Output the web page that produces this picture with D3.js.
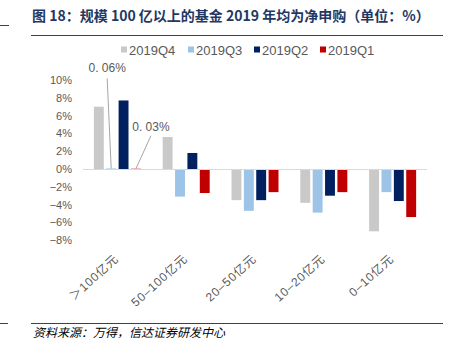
<!DOCTYPE html>
<html>
<head>
<meta charset="utf-8">
<script src="https://cdn.jsdelivr.net/npm/d3@7"></script>
<style>
  body { margin: 0; background: #fff; }
  svg { display: block; font-family: "Liberation Sans", Arial, "Noto Sans CJK SC", sans-serif; }
</style>
</head>
<body>
<div id="chart"></div>
<script>
const categories = ["＞100亿元", "50–100亿元", "20–50亿元", "10–20亿元", "0–10亿元"];
const seriesNames = ["2019Q4", "2019Q3", "2019Q2", "2019Q1"];
const q4 = [7.0, 3.6, -3.5, -3.8, -7.0];
const q3 = [0.06, -3.1, -4.7, -4.9, -2.6];
const q2 = [7.7, 1.8, -3.5, -3.0, -3.6];
const q1 = [0.03, -2.7, -2.6, -2.6, -5.4];
const yTicks = [10, 8, 6, 4, 2, 0, -2, -4, -6, -8];
const colors = ["#C9C9C9", "#9DC3E6", "#002060", "#C00000"];

const width = 453, height = 350;
const margin = {top: 80, right: 26, bottom: 92, left: 83};

const values = [q4, q3, q2, q1];
const data = categories.map((c, i) => ({
  cat: c,
  vals: seriesNames.map((s, j) => ({key: s, value: values[j][i], color: colors[j]}))
}));

const svg = d3.select("#chart").append("svg")
    .attr("width", width)
    .attr("height", height);

// title
svg.append("text")
    .attr("x", 32)
    .attr("y", 21)
    .attr("fill", "#1F3864")
    .attr("font-size", 14)
    .attr("font-weight", "bold")
    .attr("font-family", "'Noto Sans CJK SC', sans-serif")
    .text("图 18：规模 100 亿以上的基金 2019 年均为净申购（单位：%）");

svg.append("line").attr("x1", 31).attr("x2", 443).attr("y1", 35.5).attr("y2", 35.5)
    .attr("stroke", "#404040").attr("stroke-width", 1);
svg.append("line").attr("x1", 0).attr("x2", 9).attr("y1", 25.5).attr("y2", 25.5)
    .attr("stroke", "#404040").attr("stroke-width", 1);

const x0 = d3.scaleBand()
    .domain(categories)
    .range([margin.left, width - margin.right])
    .paddingInner(0.317)
    .paddingOuter(0.158);

const x1 = d3.scaleBand()
    .domain(seriesNames)
    .range([0, x0.bandwidth()])
    .paddingInner(0.2);

const y = d3.scaleLinear()
    .domain([-10, 10])
    .range([height - margin.bottom, margin.top]);

// y axis labels
const yAxis = g => g
    .attr("transform", `translate(${margin.left - 8},0)`)
    .call(d3.axisLeft(y).tickValues(yTicks).tickSize(0).tickPadding(3)
      .tickFormat(d => (d < 0 ? "−" + Math.abs(d) : d) + "%"))
    .call(g => g.select(".domain").remove())
    .call(g => g.selectAll("text")
      .attr("font-size", 11)
      .attr("fill", "#595959")
      .attr("font-family", "'Liberation Sans', Arial, sans-serif"));

svg.append("g").call(yAxis);

// bars
svg.append("g")
  .selectAll("g")
  .data(data)
  .join("g")
    .attr("transform", d => `translate(${x0(d.cat)},0)`)
  .selectAll("rect")
  .data(d => d.vals)
  .join("rect")
    .attr("x", d => x1(d.key))
    .attr("width", x1.bandwidth())
    .attr("y", d => y(Math.max(0, d.value)))
    .attr("height", d => Math.abs(y(d.value) - y(0)))
    .attr("fill", d => d.color);

// zero line
svg.append("line")
    .attr("x1", margin.left)
    .attr("x2", width - margin.right)
    .attr("y1", y(0) + 0.5)
    .attr("y2", y(0) + 0.5)
    .attr("stroke", "#D9D9D9")
    .attr("stroke-width", 1);

// annotations for tiny bars
const notes = [
  {key: "2019Q3", dx: -4, dy: -90, tx: -4, ty: -96},
  {key: "2019Q1", dx: 15, dy: -33, tx: 15, ty: -38}
];
const first = data[0];
notes.forEach(n => {
  const v = first.vals.find(d => d.key === n.key);
  const cx = x0(first.cat) + x1(n.key) + x1.bandwidth() / 2;
  const cy = y(v.value);
  svg.append("line")
      .attr("x1", cx).attr("y1", cy)
      .attr("x2", cx + n.dx).attr("y2", cy + n.dy)
      .attr("stroke", "#A6A6A6").attr("stroke-width", 1);
  svg.append("text")
      .attr("x", cx + n.tx)
      .attr("y", cy + n.ty)
      .attr("text-anchor", "middle")
      .attr("font-size", 12)
      .attr("fill", "#595959")
      .text(String(v.value).replace(".", ". ") + "%");
});

// x labels
svg.append("g")
  .selectAll("text")
  .data(categories)
  .join("text")
    .attr("transform", d => `translate(${x0(d) + x0.bandwidth() / 2 + 2},${height - margin.bottom + 2}) rotate(-42)`)
    .attr("text-anchor", "end")
    .attr("font-size", 12)
    .attr("letter-spacing", 0.8)
    .attr("fill", "#595959")
    .text(d => d);

// legend
const legendX = [121, 188, 254, 320];
const legend = svg.append("g")
  .selectAll("g")
  .data(seriesNames)
  .join("g")
    .attr("transform", (d, i) => `translate(${legendX[i]},50)`);
legend.append("rect")
    .attr("x", 0).attr("y", -3.5)
    .attr("width", 6).attr("height", 6)
    .attr("fill", (d, i) => colors[i]);
legend.append("text")
    .attr("x", 8)
    .attr("y", 4.5)
    .attr("font-size", 13)
    .attr("fill", "#595959")
    .text(d => d);

// source
svg.append("line").attr("x1", 31).attr("x2", 443).attr("y1", 323.5).attr("y2", 323.5)
    .attr("stroke", "#404040").attr("stroke-width", 1);
svg.append("line").attr("x1", 0).attr("x2", 8).attr("y1", 323.5).attr("y2", 323.5)
    .attr("stroke", "#404040").attr("stroke-width", 1);
svg.append("text")
    .attr("x", 33)
    .attr("y", 337)
    .attr("font-size", 12)
    .attr("font-style", "italic")
    .attr("fill", "#000")
    .attr("font-family", "'Noto Sans CJK SC', sans-serif")
    .text("资料来源：万得，信达证券研发中心");
</script>
</body>
</html>
